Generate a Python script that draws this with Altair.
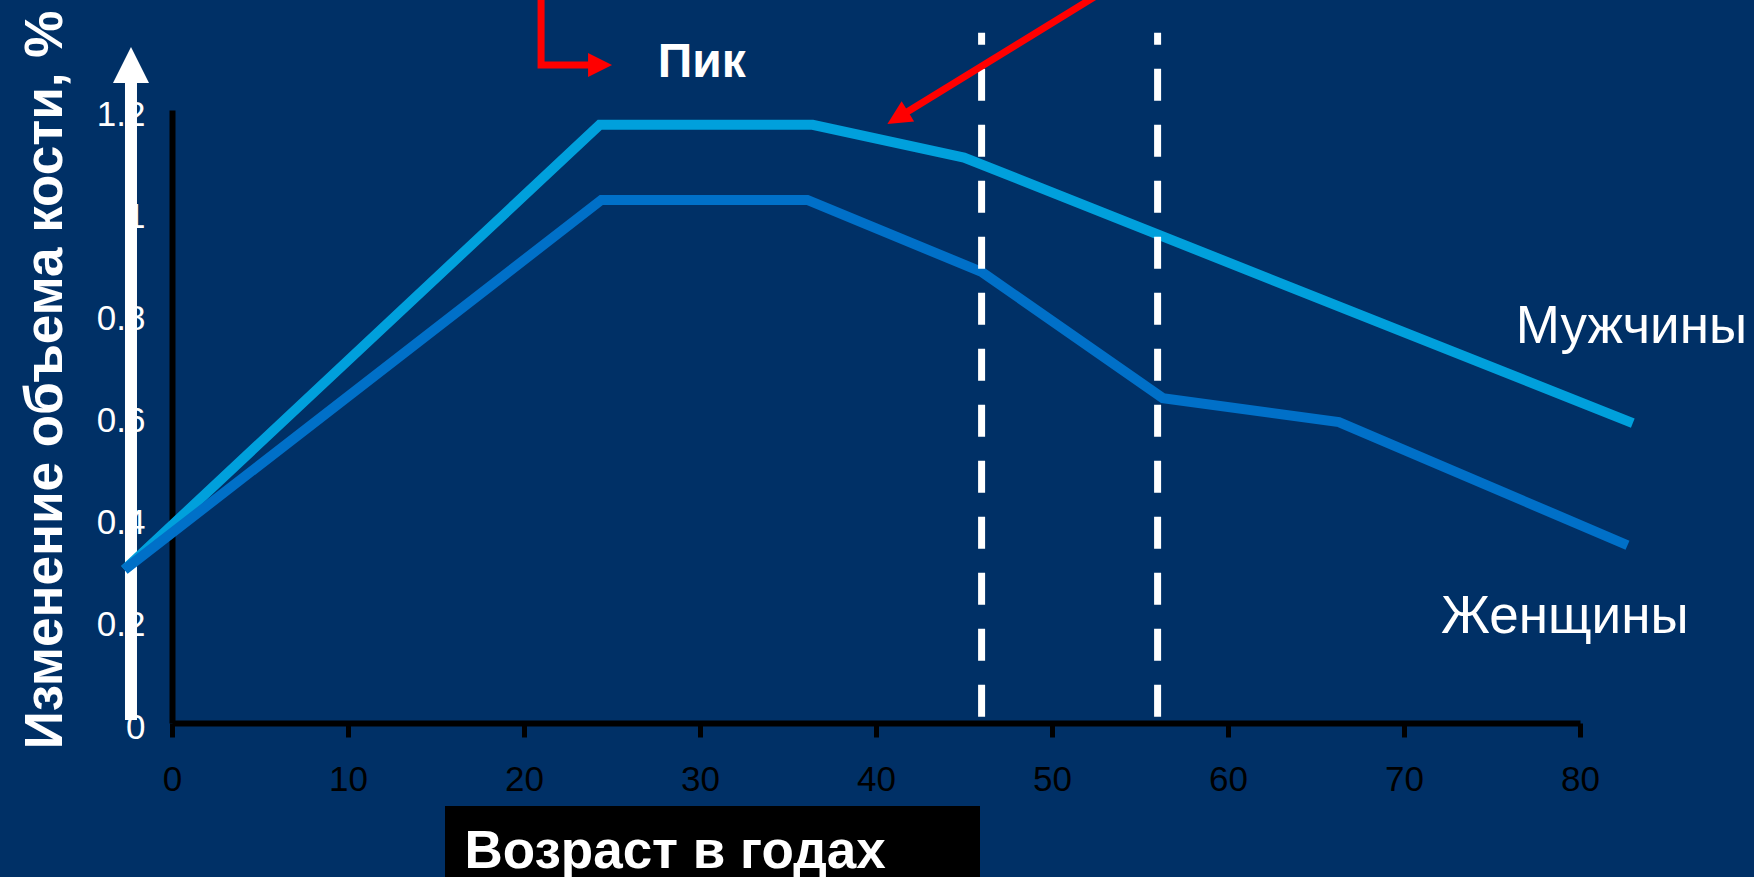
import altair as alt
import pandas as pd

# Bone mass curves (age in years, relative bone volume)
men_age = [-2.7, 24.3, 36.4, 45.0, 83.0]
men_bone = [0.30, 1.171, 1.171, 1.107, 0.587]
women_age = [-2.7, 24.4, 36.1, 46.0, 56.3, 66.3, 82.7]
women_bone = [0.30, 1.024, 1.024, 0.883, 0.636, 0.589, 0.348]
series_names = ["Мужчины", "Женщины"]
series_colors = ["#00A0DC", "#0070C8"]

# Ages marked with dashed verticals
marker_ages = [46, 56]
marker_bottom = 0.012
marker_top = 1.351

# Axis ticks
x_ticks = [0, 10, 20, 30, 40, 50, 60, 70, 80]
y_ticks = [0, 0.2, 0.4, 0.6, 0.8, 1.0, 1.2]

# Annotation arrows, in chart units
peak_arrow_x = [20.97, 20.97, 24.0]
peak_arrow_y = [1.50, 1.288, 1.288]
peak_head = (24.32, 1.288, 0)
decline_arrow_x = [54.0, 41.23]
decline_arrow_y = [1.455, 1.185]
decline_head = (41.23, 1.185, 148.5)
value_axis_arrow_x = -2.33
value_axis_arrow_y = [0.006, 1.26]
value_axis_head = (-2.33, 1.288)

# Text labels, in chart units
label_text = ["Мужчины", "Женщины", "Пик"]
label_x = [76.35, 72.1, 27.6]
label_y = [0.7445, 0.176, 1.2647]
label_size = [53, 53, 48]
label_weight = ["normal", "normal", "bold"]

FONT = "Liberation Sans"
BG = "#003066"

curves = pd.DataFrame(
    {"x": men_age, "y": men_bone, "series": series_names[0]}
)
curves = pd.concat(
    [curves, pd.DataFrame({"x": women_age, "y": women_bone, "series": series_names[1]})],
    ignore_index=True,
)

x_enc = alt.X(
    "x:Q",
    scale=alt.Scale(domain=[0, 80], nice=False, zero=False),
    axis=alt.Axis(
        values=x_ticks,
        title="Возраст в годах",
        titleFont=FONT,
        titleFontSize=53,
        titleFontWeight="bold",
        titleColor="white",
        titleX=292,
        titleY=144,
        titleAlign="left",
        titleBaseline="alphabetic",
        titleAngle=0,
        labelFont=FONT,
        labelFontSize=35,
        labelColor="black",
        labelPadding=25,
        labelFlush=False,
        domainColor="black",
        domainWidth=6,
        tickColor="black",
        tickWidth=5,
        tickSize=14,
        grid=False,
        zindex=1,
    ),
)
y_enc = alt.Y(
    "y:Q",
    scale=alt.Scale(domain=[0, 1.2], nice=False, zero=False),
    axis=alt.Axis(
        values=y_ticks,
        labelExpr="format(datum.value, '~g')",
        title="Изменение объема кости, %",
        titleFont=FONT,
        titleFontSize=53,
        titleFontWeight="bold",
        titleColor="white",
        titleAngle=270,
        titleX=-111,
        titleY=269.5,
        titleAlign="center",
        titleBaseline="alphabetic",
        labelFont=FONT,
        labelFontSize=35,
        labelColor="white",
        labelPadding=27,
        labelOffset=4,
        labelFlush=False,
        ticks=False,
        tickSize=0,
        domainColor="black",
        domainWidth=6,
        grid=False,
        zindex=0,
    ),
)

# Black band behind the age axis title
title_box = alt.Chart(pd.DataFrame({"k": [0]})).mark_rect(color="black").encode(
    x=alt.value(273), x2=alt.value(808), y=alt.value(696), y2=alt.value(790)
)

# White arrow along the value axis
shaft = alt.Chart(
    pd.DataFrame({"x": [value_axis_arrow_x], "y": [value_axis_arrow_y[0]], "y2": [value_axis_arrow_y[1]]})
).mark_rule(color="white", strokeWidth=12, strokeCap="butt").encode(
    x=x_enc, y=y_enc, y2="y2:Q"
)
shaft_head = alt.Chart(
    pd.DataFrame({"x": [value_axis_head[0]], "y": [value_axis_head[1]]})
).mark_point(
    shape="M0,-1L1,1L-1,1Z", size=1296, filled=True, color="white", opacity=1, strokeWidth=0
).encode(x=x_enc, y=y_enc)

lines = alt.Chart(curves).mark_line(
    strokeWidth=10, strokeCap="butt", strokeJoin="miter"
).encode(
    x=x_enc,
    y=y_enc,
    color=alt.Color(
        "series:N",
        scale=alt.Scale(domain=series_names, range=series_colors),
        legend=None,
    ),
)

markers = alt.Chart(
    pd.DataFrame({"x": marker_ages, "y": [marker_bottom] * 2, "y2": [marker_top] * 2})
).mark_rule(color="white", strokeWidth=7, strokeDash=[32, 24], strokeCap="butt").encode(
    x=x_enc, y=y_enc, y2="y2:Q"
)

arrow_lines_df = pd.concat(
    [
        pd.DataFrame({"x": peak_arrow_x, "y": peak_arrow_y, "arrow": "peak", "o": range(3)}),
        pd.DataFrame({"x": decline_arrow_x, "y": decline_arrow_y, "arrow": "decline", "o": range(2)}),
    ],
    ignore_index=True,
)
arrow_lines = alt.Chart(arrow_lines_df).mark_line(
    color="#FF0000", strokeWidth=7, strokeCap="butt", strokeJoin="miter"
).encode(x=x_enc, y=y_enc, detail="arrow:N", order="o:Q")

heads_df = pd.DataFrame(
    {
        "x": [peak_head[0], decline_head[0]],
        "y": [peak_head[1], decline_head[1]],
        "angle": [peak_head[2], decline_head[2]],
    }
)
arrow_heads = alt.Chart(heads_df).mark_point(
    shape="M-1,-1L1,0L-1,1Z", size=576, filled=True, color="#FF0000", opacity=1, strokeWidth=0
).encode(
    x=x_enc,
    y=y_enc,
    angle=alt.Angle("angle:Q", scale=None),
)

labels_df = pd.DataFrame(
    {"x": label_x, "y": label_y, "label": label_text, "size": label_size, "weight": label_weight}
)
text_layers = []
for i in range(len(label_text)):
    text_layers.append(
        alt.Chart(labels_df.iloc[[i]]).mark_text(
            font=FONT,
            fontSize=label_size[i],
            fontWeight=label_weight[i],
            color="white",
            align="left",
            baseline="alphabetic",
        ).encode(x=x_enc, y=y_enc, text="label:N")
    )

chart = alt.layer(
    title_box, shaft, shaft_head, lines, markers, arrow_lines, arrow_heads, *text_layers
).properties(
    width=1408,
    height=613,
    autosize=alt.AutoSizeParams(type="none"),
    padding={"left": 172, "top": 110, "right": 174, "bottom": 154},
    background=BG,
).configure_view(stroke=None)

chart.save("out.html", embed_options={"renderer": "svg", "actions": False})
